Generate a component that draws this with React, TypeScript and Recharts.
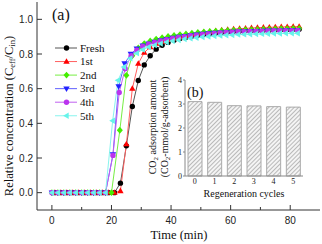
import React from "react";
import { LineChart, Line, XAxis, YAxis, Legend, Label, BarChart, Bar } from "recharts";

// breakthrough curves, [time (min), C/C0]
const fresh: [number, number][] = [
  [1, 0], [3, 0], [5, 0], [7, 0], [9, 0], [11, 0], [13, 0], [15, 0], [17, 0], [19, 0], [21, 0],
  [23, 0.055], [25, 0.27], [27, 0.497], [29, 0.647], [31, 0.737], [33, 0.79], [35, 0.828], [37, 0.85],
  [39, 0.867], [41, 0.88], [43, 0.89], [45, 0.897], [47, 0.904], [49, 0.909], [51, 0.914], [53, 0.918],
  [55, 0.922], [57, 0.926], [59, 0.929], [61, 0.931], [63, 0.933], [65, 0.935], [67, 0.936], [69, 0.937],
  [71, 0.938], [73, 0.939], [75, 0.94], [77, 0.941], [79, 0.942], [81, 0.943], [83, 0.943],
];

const cycle1: [number, number][] = [
  [1, 0], [3, 0], [5, 0], [7, 0], [9, 0], [11, 0], [13, 0], [15, 0], [17, 0], [19, 0], [21, 0],
  [23, 0.01], [25, 0.28], [27, 0.6], [29, 0.745], [31, 0.808], [33, 0.84], [35, 0.86], [37, 0.872],
  [39, 0.882], [41, 0.89], [43, 0.898], [45, 0.905], [47, 0.912], [49, 0.918], [51, 0.924], [53, 0.929],
  [55, 0.933], [57, 0.937], [59, 0.941], [61, 0.944], [63, 0.946], [65, 0.948], [67, 0.95], [69, 0.952],
  [71, 0.953], [73, 0.954], [75, 0.955], [77, 0.956], [79, 0.957], [81, 0.958], [83, 0.958],
];

const cycle2: [number, number][] = [
  [0, 0], [2, 0], [4, 0], [6, 0], [8, 0], [10, 0], [12, 0], [14, 0], [16, 0], [18, 0], [20, 0],
  [22.8, 0.36], [25, 0.677], [27, 0.79], [29, 0.835], [31, 0.86], [33, 0.875], [35, 0.886], [37, 0.894],
  [39, 0.901], [41, 0.907], [43, 0.912], [45, 0.916], [47, 0.92], [49, 0.924], [51, 0.927], [53, 0.93],
  [55, 0.932], [57, 0.934], [59, 0.936], [61, 0.938], [63, 0.939], [65, 0.94], [67, 0.941], [69, 0.942],
  [71, 0.943], [73, 0.944], [75, 0.945], [77, 0.946], [79, 0.946], [81, 0.947], [83, 0.947],
];

const cycle3: [number, number][] = [
  [0, 0], [2, 0], [4, 0], [6, 0], [8, 0], [10, 0], [12, 0], [14, 0], [16, 0], [18, 0],
  [20.5, 0.22], [22.4, 0.613], [24.4, 0.745], [26.5, 0.8], [28.5, 0.83], [30.5, 0.848], [32.5, 0.86],
  [34.5, 0.87], [36.5, 0.878], [38.5, 0.886], [40.5, 0.892], [42.5, 0.898], [44.5, 0.903], [46.5, 0.907],
  [48.5, 0.911], [50.5, 0.915], [52.5, 0.918], [54.5, 0.921], [56.5, 0.923], [58.5, 0.925], [60.5, 0.927],
  [62.5, 0.929], [64.5, 0.93], [66.5, 0.931], [68.5, 0.932], [70.5, 0.933], [72.5, 0.934], [74.5, 0.935],
  [76.5, 0.935], [78.5, 0.936], [80.5, 0.936], [82.5, 0.937],
];

const cycle4: [number, number][] = [
  [0, 0], [2, 0], [4, 0], [6, 0], [8, 0], [10, 0], [12, 0], [14, 0], [16, 0], [18, 0],
  [20.5, 0.215], [22.6, 0.578], [24.6, 0.715], [26.6, 0.79], [28.5, 0.822], [30.5, 0.843], [32.5, 0.856],
  [34.5, 0.866], [36.5, 0.875], [38.5, 0.883], [40.5, 0.889], [42.5, 0.895], [44.5, 0.9], [46.5, 0.905],
  [48.5, 0.909], [50.5, 0.913], [52.5, 0.916], [54.5, 0.919], [56.5, 0.922], [58.5, 0.924], [60.5, 0.926],
  [62.5, 0.928], [64.5, 0.929], [66.5, 0.93], [68.5, 0.931], [70.5, 0.932], [72.5, 0.933], [74.5, 0.934],
  [76.5, 0.934], [78.5, 0.935], [80.5, 0.935], [82.5, 0.936],
];

const cycle5: [number, number][] = [
  [0, 0], [2, 0], [4, 0], [6, 0], [8, 0], [10, 0], [12, 0], [14, 0], [16, 0], [18, 0],
  [20.4, 0.415], [22.2, 0.648], [24.2, 0.725], [26.3, 0.775], [28.5, 0.805], [30.5, 0.825], [32.5, 0.84],
  [34.5, 0.851], [36.5, 0.86], [38.5, 0.868], [40.5, 0.875], [42.5, 0.881], [44.5, 0.886], [46.5, 0.89],
  [48.5, 0.894], [50.5, 0.898], [52.5, 0.901], [54.5, 0.904], [56.5, 0.906], [58.5, 0.908], [60.5, 0.91],
  [62.5, 0.912], [64.5, 0.913], [66.5, 0.914], [68.5, 0.915], [70.5, 0.916], [72.5, 0.917], [74.5, 0.918],
  [76.5, 0.918], [78.5, 0.919], [80.5, 0.919], [82.5, 0.92],
];

// inset (b)
const cycleLabels = ["0", "1", "2", "3", "4", "5"];
const co2Uptake = [3.1, 3.07, 2.93, 2.92, 2.89, 2.87];

const xTicks = [0, 10, 20, 30, 40, 50, 60, 70, 80];
const yTicks = [0, 0.1, 0.2, 0.3, 0.4, 0.5, 0.6, 0.7, 0.8, 0.9, 1.0];
const barTicks = [0, 1, 2, 3, 4];

const serif = "'Liberation Serif', 'Times New Roman', serif";
const sans = "'Liberation Sans', Arial, sans-serif";

const series = [
  { name: "Fresh", pts: fresh, color: "#000000", line: "#555555", shape: "circle" },
  { name: "1st", pts: cycle1, color: "#ff0000", line: "#ff6060", shape: "up" },
  { name: "2nd", pts: cycle2, color: "#44ee00", line: "#77ee44", shape: "diamond" },
  { name: "3rd", pts: cycle3, color: "#2222ff", line: "#6060ff", shape: "down" },
  { name: "4th", pts: cycle4, color: "#bb33ee", line: "#c060f0", shape: "circle" },
  { name: "5th", pts: cycle5, color: "#66f4ea", line: "#88f4ee", shape: "left" },
];

const barData = cycleLabels.map((c, i) => ({ cycle: c, amount: co2Uptake[i] }));

function Marker({ cx, cy, shape, color }: any) {
  if (cx == null || cy == null) return null;
  if (shape === "circle") return <circle cx={cx} cy={cy} r={2.7} fill={color} />;
  let pts = "";
  if (shape === "up") pts = `${cx},${cy - 3.4} ${cx + 3.2},${cy + 2.2} ${cx - 3.2},${cy + 2.2}`;
  if (shape === "down") pts = `${cx},${cy + 3.4} ${cx + 3.2},${cy - 2.2} ${cx - 3.2},${cy - 2.2}`;
  if (shape === "diamond") pts = `${cx},${cy - 3.4} ${cx + 3},${cy} ${cx},${cy + 3.4} ${cx - 3},${cy}`;
  if (shape === "left") pts = `${cx - 3.4},${cy} ${cx + 2.2},${cy - 3.2} ${cx + 2.2},${cy + 3.2}`;
  return <polygon points={pts} fill={color} />;
}

const XTick = (p: any) => {
  const v = p.payload.value;
  const major = v % 20 === 0;
  return (
    <g>
      <line x1={p.x} x2={p.x} y1={p.y} y2={p.y - (major ? 5 : 3)} stroke="#333" />
      {major && (
        <text x={p.x} y={p.y + 14} textAnchor="middle" fontSize={10} fontFamily={sans} fill="#222">
          {v}
        </text>
      )}
    </g>
  );
};

const YTick = (p: any) => {
  const v = p.payload.value;
  const major = Math.round(v * 10) % 2 === 0;
  return (
    <g>
      <line x1={p.x} x2={p.x + (major ? 5 : 3)} y1={p.y} y2={p.y} stroke="#333" />
      {major && (
        <text x={p.x - 4} y={p.y + 3.5} textAnchor="end" fontSize={10} fontFamily={sans} fill="#222">
          {v.toFixed(1)}
        </text>
      )}
    </g>
  );
};

const renderLegend = () => (
  <svg width={60} height={84}>
    {series.map((s, i) => {
      const y = 7 + i * 13.55;
      return (
        <g key={s.name}>
          <line x1={0} x2={22} y1={y} y2={y} stroke={s.line} />
          <Marker cx={11.5} cy={y} shape={s.shape} color={s.color} />
          <text x={25} y={y + 3.8} fontSize={11} fontFamily={serif} fill="#111">
            {s.name}
          </text>
        </g>
      );
    })}
  </svg>
);

export default function App() {
  return (
    <div style={{ position: "absolute", left: 0, top: 0, width: 322, height: 244, background: "#fff" }}>
      <LineChart width={322} height={244} margin={{ top: 2, right: 2, bottom: 0, left: 0 }}>
        <XAxis
          type="number"
          dataKey="t"
          domain={[-5, 90]}
          ticks={xTicks}
          allowDataOverflow
          tickLine={false}
          tickSize={0}
          tickMargin={0}
          tick={XTick}
          height={34}
          axisLine={{ stroke: "#333" }}
        >
          <Label
            content={() => (
              <text x={179} y={239} textAnchor="middle" fontSize={12.5} fontFamily={serif} fill="#111">
                Time (min)
              </text>
            )}
          />
        </XAxis>
        <XAxis xAxisId="top" orientation="top" type="number" domain={[-5, 90]} tick={false} tickLine={false} height={0} axisLine={{ stroke: "#333" }} />
        <YAxis
          type="number"
          domain={[-0.1, 1.1]}
          ticks={yTicks}
          allowDataOverflow
          tickLine={false}
          tickSize={0}
          tickMargin={0}
          tick={YTick}
          width={37}
          axisLine={{ stroke: "#333" }}
        >
          <Label
            content={() => (
              <g>
                <text transform="translate(13,116) rotate(-90)" textAnchor="middle" fontSize={12.5} fontFamily={serif} fill="#111">
                  Relative concentration (C<tspan fontSize={8.5} dy={2}>eff</tspan>
                  <tspan fontSize={12.5} dy={-2}>/C</tspan>
                  <tspan fontSize={8.5} dy={2}>in</tspan>
                  <tspan fontSize={12.5} dy={-2}>)</tspan>
                </text>
                <text x={52} y={20} fontSize={16} fontFamily={serif} fill="#111">
                  (a)
                </text>
              </g>
            )}
          />
        </YAxis>
        <YAxis yAxisId="right" orientation="right" type="number" domain={[-0.1, 1.1]} tick={false} tickLine={false} width={0} axisLine={{ stroke: "#333" }} />
        <Legend
          layout="vertical"
          align="center"
          verticalAlign="middle"
          content={renderLegend}
          wrapperStyle={{ left: 55, top: 41, width: 60, height: 84 }}
        />
        {series.map((s) => (
          <Line
            key={s.name}
            name={s.name}
            data={s.pts.map(([t, v]) => ({ t, v }))}
            dataKey="v"
            stroke={s.line}
            strokeWidth={1}
            isAnimationActive={false}
            activeDot={false}
            dot={(p: any) => <Marker key={`${s.name}-${p.index}`} cx={p.cx} cy={p.cy} shape={s.shape} color={s.color} />}
          />
        ))}
      </LineChart>

      <div style={{ position: "absolute", left: 140, top: 70 }}>
        <BarChart width={170} height={135} data={barData} margin={{ top: 10, right: 7, bottom: 0, left: 0 }}>
          <defs>
            <pattern id="hatch" width={3} height={3} patternUnits="userSpaceOnUse" patternTransform="rotate(45)">
              <rect width={3} height={3} fill="#f4f4f4" />
              <line x1={0} y1={0} x2={0} y2={3} stroke="#999" strokeWidth={1.3} />
            </pattern>
          </defs>
          <XAxis
            dataKey="cycle"
            tickLine={false}
            tickSize={0}
            tickMargin={2}
            height={29}
            tick={{ fontSize: 8, fontFamily: serif, fill: "#222" }}
            axisLine={{ stroke: "#888" }}
          >
            <Label
              content={() => (
                <text x={104} y={126.5} textAnchor="middle" fontSize={10} fontFamily={serif} fill="#111">
                  Regeneration cycles
                </text>
              )}
            />
          </XAxis>
          <XAxis xAxisId="top" orientation="top" dataKey="cycle" tick={false} tickLine={false} height={0} axisLine={{ stroke: "#888" }} />
          <YAxis
            domain={[0, 4]}
            ticks={barTicks}
            tickSize={2}
            tickMargin={1}
            width={45}
            tick={{ fontSize: 8, fontFamily: serif, fill: "#222" }}
            axisLine={{ stroke: "#888" }}
            tickLine={{ stroke: "#888" }}
          >
            <Label
              content={() => (
                <g>
                  <text transform="translate(16,57) rotate(-90)" textAnchor="middle" fontSize={10} fontFamily={serif} fill="#111">
                    CO<tspan fontSize={7} dy={2}>2</tspan>
                    <tspan fontSize={10} dy={-2}> adsorption amount</tspan>
                  </text>
                  <text transform="translate(27.5,57) rotate(-90)" textAnchor="middle" fontSize={10} fontFamily={serif} fill="#111">
                    (CO<tspan fontSize={7} dy={2}>2</tspan>
                    <tspan fontSize={10} dy={-2}>-mmol/g-adsorbent)</tspan>
                  </text>
                  <text x={47} y={27} fontSize={14} fontFamily={serif} fill="#111">
                    (b)
                  </text>
                </g>
              )}
            />
          </YAxis>
          <YAxis yAxisId="right" orientation="right" domain={[0, 4]} tick={false} tickLine={false} width={0} axisLine={{ stroke: "#888" }} />
          <Bar dataKey="amount" barSize={14} fill="url(#hatch)" stroke="#aaa" isAnimationActive={false} />
        </BarChart>
      </div>
    </div>
  );
}
